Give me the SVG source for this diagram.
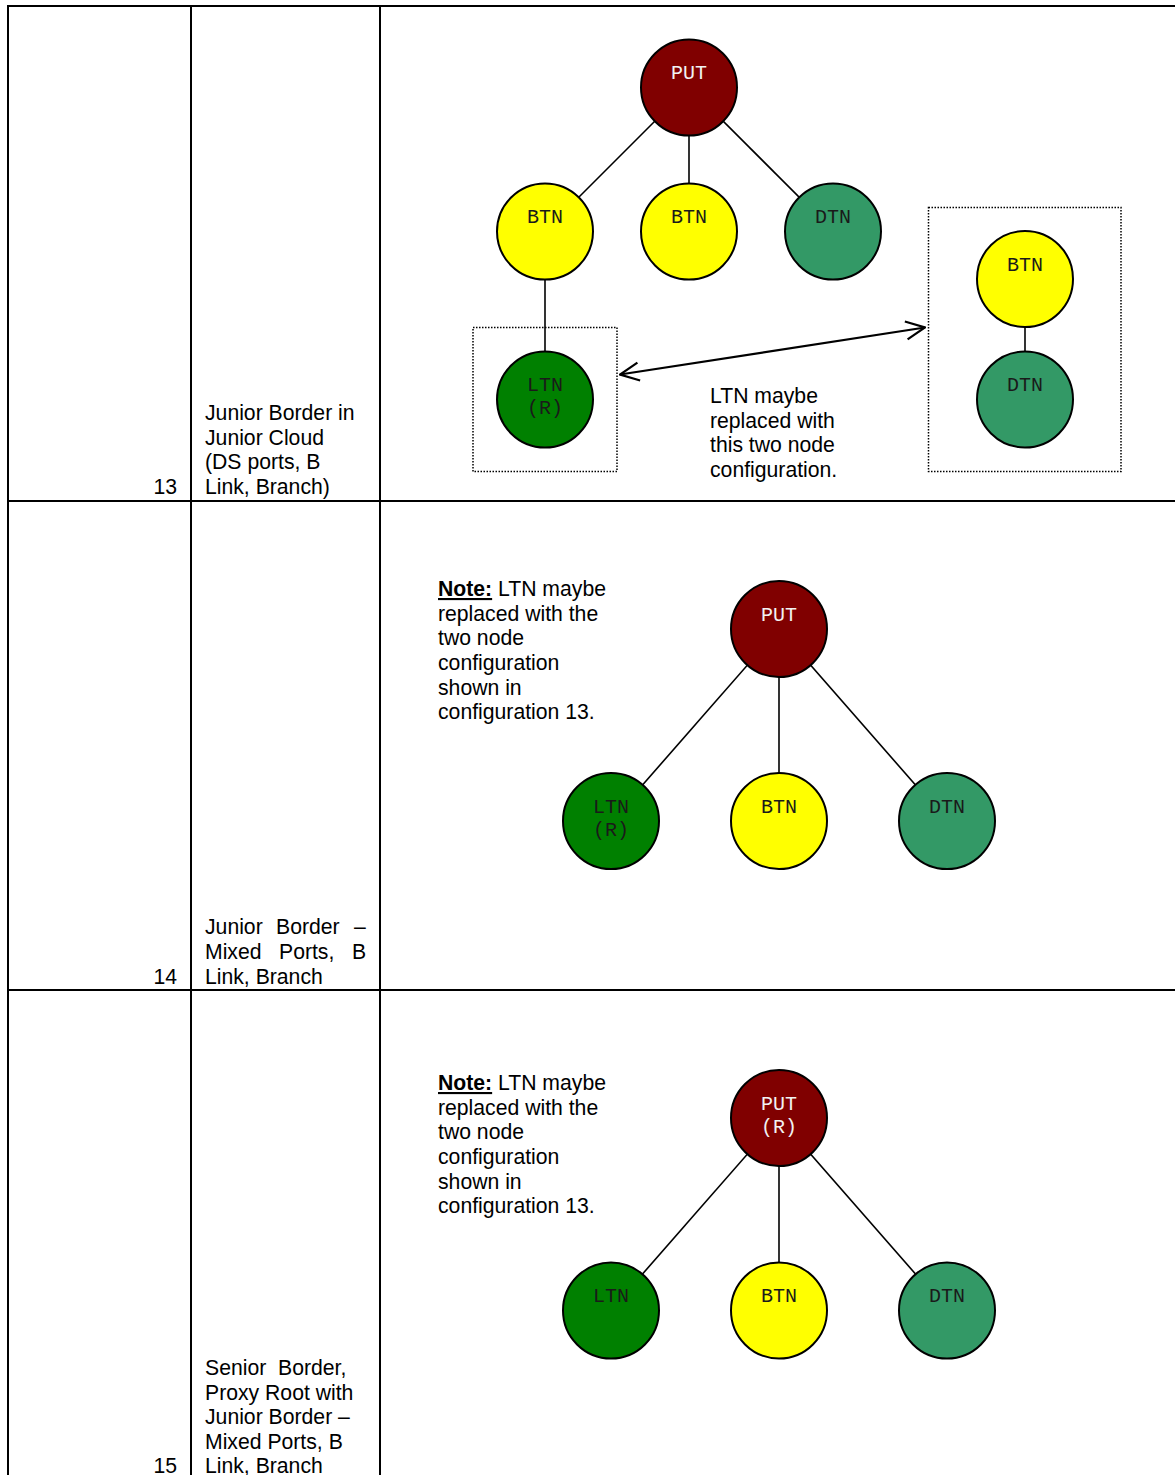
<svg xmlns="http://www.w3.org/2000/svg" width="1175" height="1475" viewBox="0 0 1175 1475">
<style>
.grid{stroke:#000;stroke-width:2;fill:none}
.t{font-family:"Liberation Sans",Arial,sans-serif;font-size:21.2px;fill:#000}
.n{font-family:"Liberation Mono","Courier New",monospace;font-size:20px;text-anchor:middle;fill:#1a1a1a}
.nw{fill:#f2f2f2}
.c{stroke:#000;stroke-width:2}
.put{fill:#800000}.btn{fill:#ffff00}.dtn{fill:#339966}.ltn{fill:#008000}
.e{stroke:#000;stroke-width:1.6;fill:none}
.dot{stroke:#000;stroke-width:1.5;stroke-dasharray:1.5 1.5;fill:none}
</style>
<defs>
<marker id="ah" viewBox="0 0 22 22" refX="21" refY="11" markerWidth="22" markerHeight="22" markerUnits="userSpaceOnUse" orient="auto-start-reverse">
<path d="M2,2 L21,11 L2,20" fill="none" stroke="#000" stroke-width="2.2"/>
</marker>
</defs>
<rect width="1175" height="1475" fill="#fff"/>
<g id="table">
<line class="grid" x1="7" y1="6" x2="1175" y2="6"/>
<line class="grid" x1="8" y1="501" x2="1175" y2="501"/>
<line class="grid" x1="8" y1="990" x2="1175" y2="990"/>
<line class="grid" x1="8" y1="5" x2="8" y2="1475"/>
<line class="grid" x1="191" y1="5" x2="191" y2="1475"/>
<line class="grid" x1="380" y1="5" x2="380" y2="1475"/>
</g>
<g id="labels">
<text class="t" x="177" y="494" text-anchor="end">13</text>
<text class="t" x="205" y="420">Junior Border in</text>
<text class="t" x="205" y="445">Junior Cloud</text>
<text class="t" x="205" y="469">(DS ports, B</text>
<text class="t" x="205" y="494">Link, Branch)</text>
<text class="t" x="177" y="984" text-anchor="end">14</text>
<text class="t" y="934"><tspan x="205">Junior</tspan><tspan x="276">Border</tspan><tspan x="354">–</tspan></text>
<text class="t" y="959"><tspan x="205">Mixed</tspan><tspan x="279">Ports,</tspan><tspan x="352">B</tspan></text>
<text class="t" x="205" y="984">Link, Branch</text>
<text class="t" x="177" y="1473" text-anchor="end">15</text>
<text class="t" x="205" y="1375" xml:space="preserve">Senior  Border,</text>
<text class="t" x="205" y="1399.5">Proxy Root with</text>
<text class="t" x="205" y="1424">Junior Border –</text>
<text class="t" x="205" y="1448.5">Mixed Ports, B</text>
<text class="t" x="205" y="1473">Link, Branch</text>
<text class="t" x="710" y="403">LTN maybe</text>
<text class="t" x="710" y="427.5">replaced with</text>
<text class="t" x="710" y="452">this two node</text>
<text class="t" x="710" y="477">configuration.</text>
<text class="t" x="438" y="596"><tspan font-weight="bold" text-decoration="underline">Note:</tspan> LTN maybe</text>
<text class="t" x="438" y="620.5">replaced with the</text>
<text class="t" x="438" y="645">two node</text>
<text class="t" x="438" y="670">configuration</text>
<text class="t" x="438" y="694.5">shown in</text>
<text class="t" x="438" y="719">configuration 13.</text>
<text class="t" x="438" y="1090"><tspan font-weight="bold" text-decoration="underline">Note:</tspan> LTN maybe</text>
<text class="t" x="438" y="1114.5">replaced with the</text>
<text class="t" x="438" y="1139">two node</text>
<text class="t" x="438" y="1164">configuration</text>
<text class="t" x="438" y="1188.5">shown in</text>
<text class="t" x="438" y="1213">configuration 13.</text>
</g>
<g id="connectors">
<line class="e" x1="689" y1="87" x2="545" y2="231"/>
<line class="e" x1="689" y1="87" x2="689" y2="231"/>
<line class="e" x1="689" y1="87" x2="833" y2="231"/>
<line class="e" x1="545" y1="231" x2="545" y2="399"/>
<line class="e" x1="1025" y1="279" x2="1025" y2="399"/>
<line x1="620" y1="374.5" x2="925" y2="327.5" stroke="#000" stroke-width="2.2" marker-start="url(#ah)" marker-end="url(#ah)"/>
<line class="e" x1="779" y1="629" x2="611" y2="821"/>
<line class="e" x1="779" y1="629" x2="779" y2="821"/>
<line class="e" x1="779" y1="629" x2="947" y2="821"/>
<line class="e" x1="779" y1="1118" x2="611" y2="1310"/>
<line class="e" x1="779" y1="1118" x2="779" y2="1310"/>
<line class="e" x1="779" y1="1118" x2="947" y2="1310"/>
</g>
<g id="box-left"><rect class="dot" x="473" y="327.5" width="144" height="144"/></g>
<g id="box-right"><rect class="dot" x="928.5" y="207.5" width="192.5" height="264"/></g>
<g id="n13-put"><circle class="c put" cx="689" cy="87.5" r="48"/><text class="n nw" x="689" y="79">PUT</text></g>
<g id="n13-btn1"><circle class="c btn" cx="545" cy="231.5" r="48"/><text class="n" x="545" y="223">BTN</text></g>
<g id="n13-btn2"><circle class="c btn" cx="689" cy="231.5" r="48"/><text class="n" x="689" y="223">BTN</text></g>
<g id="n13-dtn"><circle class="c dtn" cx="833" cy="231.5" r="48"/><text class="n" x="833" y="223">DTN</text></g>
<g id="n13-ltn"><circle class="c ltn" cx="545" cy="399.5" r="48"/><text class="n" x="545" y="391">LTN</text><text class="n" x="545" y="414">(R)</text></g>
<g id="n13-btn3"><circle class="c btn" cx="1025" cy="279" r="48"/><text class="n" x="1025" y="271">BTN</text></g>
<g id="n13-dtn2"><circle class="c dtn" cx="1025" cy="399.5" r="48"/><text class="n" x="1025" y="391">DTN</text></g>
<g id="n14-put"><circle class="c put" cx="779" cy="629" r="48"/><text class="n nw" x="779" y="621">PUT</text></g>
<g id="n14-ltn"><circle class="c ltn" cx="611" cy="821" r="48"/><text class="n" x="611" y="813">LTN</text><text class="n" x="611" y="836">(R)</text></g>
<g id="n14-btn"><circle class="c btn" cx="779" cy="821" r="48"/><text class="n" x="779" y="813">BTN</text></g>
<g id="n14-dtn"><circle class="c dtn" cx="947" cy="821" r="48"/><text class="n" x="947" y="813">DTN</text></g>
<g id="n15-put"><circle class="c put" cx="779" cy="1118" r="48"/><text class="n nw" x="779" y="1110">PUT</text><text class="n nw" x="779" y="1133">(R)</text></g>
<g id="n15-ltn"><circle class="c ltn" cx="611" cy="1310.5" r="48"/><text class="n" x="611" y="1302">LTN</text></g>
<g id="n15-btn"><circle class="c btn" cx="779" cy="1310.5" r="48"/><text class="n" x="779" y="1302">BTN</text></g>
<g id="n15-dtn"><circle class="c dtn" cx="947" cy="1310.5" r="48"/><text class="n" x="947" y="1302">DTN</text></g>
</svg>
